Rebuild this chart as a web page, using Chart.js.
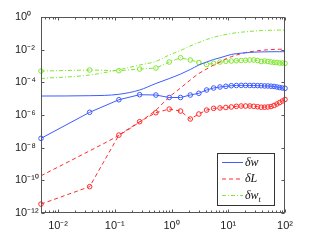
<!DOCTYPE html>
<html>
<head>
<meta charset="utf-8">
<script src="https://cdn.jsdelivr.net/npm/chart.js@4"></script>
<style>
html, body { margin: 0; padding: 0; background: #fff; }
</style>
</head>
<body>
<canvas id="chart" width="315" height="242"></canvas>
<script>
// sample points (same x grid for every series)
const xValues = [0.005, 0.036, 0.118, 0.274, 0.53, 0.91, 1.44, 2.14, 3.03, 4.15,
    5.52, 7.15, 9.08, 11.3, 13.9, 16.9, 20.2, 24.0, 28.2, 32.9,
    38.0, 43.7, 49.9, 56.7, 64.1, 72.0, 80.7, 89.9, 100];

// smooth curves (no markers)
const dwCurve = [1.45e-5, 1.52e-5, 1.85e-5, 3.4e-5, 8.5e-5, 1.7e-4, 3.2e-4, 6.1e-4, 1.15e-3, 1.75e-3,
    2.5e-3, 3.2e-3, 4.1e-3, 5.1e-3, 5.7e-3, 6.1e-3, 6.4e-3, 6.8e-3, 7.0e-3, 7.2e-3,
    7.3e-3, 7.35e-3, 7.4e-3, 7.45e-3, 7.5e-3, 7.5e-3, 7.5e-3, 7.5e-3, 7.5e-3];
const dLCurve = [1.9e-10, 6.4e-9, 5.7e-8, 3.7e-7, 2.0e-6, 1.26e-5, 4.5e-5, 1.39e-4, 3.5e-4, 6.5e-4,
    1.15e-3, 1.75e-3, 2.7e-3, 3.7e-3, 4.7e-3, 5.7e-3, 6.7e-3, 7.4e-3, 8.0e-3, 8.6e-3,
    9.1e-3, 9.5e-3, 9.8e-3, 1.01e-2, 1.04e-2, 1.05e-2, 1.06e-2, 1.07e-2, 1.1e-2];
const dwtCurve = [1.71e-4, 2.8e-4, 5.9e-4, 1.15e-3, 1.9e-3, 4.7e-3, 8.9e-3, 1.68e-2, 2.74e-2, 4.2e-2,
    5.7e-2, 7.2e-2, 8.5e-2, 9.8e-2, 0.109, 0.117, 0.124, 0.131, 0.137, 0.143,
    0.147, 0.151, 0.153, 0.155, 0.157, 0.158, 0.158, 0.158, 0.158];

// series drawn with circle markers
const dwMarks = [3.7e-8, 1.46e-6, 8.6e-6, 1.75e-5, 1.67e-5, 1.18e-5, 1.18e-5, 1.67e-5, 2.13e-5, 3.4e-5,
    4.5e-5, 5.2e-5, 5.7e-5, 6.2e-5, 6.4e-5, 6.5e-5, 6.5e-5, 6.4e-5, 6.4e-5, 6.3e-5,
    6.2e-5, 6.0e-5, 6.0e-5, 5.8e-5, 5.6e-5, 5.2e-5, 4.8e-5, 4.5e-5, 4.3e-5];
const dLMarks = [3.5e-12, 4.1e-11, 5.9e-8, 3.9e-7, 1.38e-6, 2.3e-6, 1.75e-6, 5.7e-7, 1.15e-6, 2.0e-6,
    2.56e-6, 2.7e-6, 2.9e-6, 3.1e-6, 3.4e-6, 3.55e-6, 3.55e-6, 3.55e-6, 3.4e-6, 3.2e-6,
    3.0e-6, 3.0e-6, 3.1e-6, 3.3e-6, 3.8e-6, 4.7e-6, 5.8e-6, 7.2e-6, 8.9e-6];
const dwtMarks = [4.9e-4, 5.7e-4, 5.15e-4, 6.5e-4, 7.5e-4, 1.75e-3, 3.2e-3, 2.33e-3, 1.64e-3, 1.23e-3,
    1.46e-3, 1.75e-3, 1.94e-3, 2.02e-3, 2.11e-3, 2.17e-3, 2.23e-3, 2.33e-3, 2.33e-3, 2.17e-3,
    1.88e-3, 2.02e-3, 1.88e-3, 1.75e-3, 1.68e-3, 1.64e-3, 1.52e-3, 1.52e-3, 1.46e-3];

const xTicks = [0.01, 0.1, 1, 10, 100];
const yTicks = [1e-12, 1e-10, 1e-8, 1e-6, 1e-4, 1e-2, 1];
const legendLabels = [['δw', ''], ['δL', ''], ['δw', 't']];

const blue = '#3d5cff';
const red = '#ff2a2a';
const green = '#80e632';

const sup = {'0': '⁰', '1': '¹', '2': '²', '3': '³', '4': '⁴', '5': '⁵',
    '6': '⁶', '7': '⁷', '8': '⁸', '9': '⁹', '-': '⁻'};

function powerLabel(v) {
    const e = Math.round(Math.log10(v));
    return '10' + String(e).split('').map(c => sup[c]).join('');
}

function points(values) {
    return xValues.map((x, i) => ({x: x, y: values[i]}));
}

const framePlugin = {
    id: 'frame',
    afterDraw(chart) {
        const {ctx, chartArea: a, scales: {x, y}} = chart;
        const left = Math.round(a.left) + 0.5;
        const right = Math.round(a.right) - 0.5;
        const top = Math.round(a.top) + 0.5;
        const bottom = Math.round(a.bottom) - 0.5;
        ctx.save();
        ctx.strokeStyle = '#555';
        ctx.lineWidth = 1;
        ctx.beginPath();

        // x ticks: majors + minors, bottom and top
        for (let d = 0.001; d <= 100; d *= 10) {
            for (let m = 1; m <= 9; m++) {
                const v = m * d;
                if (v < x.min * 0.999 || v > x.max * 1.001) {
                    continue;
                }
                const px = Math.round(x.getPixelForValue(v)) + 0.5;
                const len = m === 1 ? 3 : 2;
                ctx.moveTo(px, bottom);
                ctx.lineTo(px, bottom - len);
                ctx.moveTo(px, top);
                ctx.lineTo(px, top + len);
            }
        }
        yTicks.forEach((v) => {
            const py = Math.round(y.getPixelForValue(v)) + 0.5;
            ctx.moveTo(left, py);
            ctx.lineTo(left + 3, py);
            ctx.moveTo(right, py);
            ctx.lineTo(right - 3, py);
        });
        ctx.stroke();
        ctx.strokeRect(left, top, right - left, bottom - top);

        // legend box
        const bx = 217.5, by = 153.5, bw = 57, bh = 52;
        ctx.fillStyle = '#fff';
        ctx.fillRect(bx, by, bw, bh);
        ctx.strokeStyle = '#333';
        ctx.strokeRect(bx, by, bw, bh);
        const rows = [162.5, 179, 195.5];
        legendLabels.forEach((label, i) => {
            const ds = chart.data.datasets[i];
            ctx.save();
            ctx.strokeStyle = ds.borderColor;
            ctx.lineWidth = 1;
            ctx.setLineDash(ds.borderDash || []);
            ctx.beginPath();
            ctx.moveTo(222, rows[i]);
            ctx.lineTo(243, rows[i]);
            ctx.stroke();
            ctx.restore();
            ctx.fillStyle = '#111';
            ctx.textBaseline = 'middle';
            ctx.font = 'italic 12px "Liberation Serif", serif';
            ctx.fillText(label[0], 245, rows[i]);
            if (label[1]) {
                const w = ctx.measureText(label[0]).width;
                ctx.font = 'italic 8px "Liberation Serif", serif';
                ctx.fillText(label[1], 245 + w, rows[i] + 4);
            }
        });
        ctx.restore();
    }
};

Chart.defaults.font.family = '"Liberation Sans", Arial, sans-serif';

new Chart(document.getElementById('chart'), {
    type: 'line',
    data: {
        datasets: [
            {
                data: points(dwCurve),
                borderColor: blue,
                borderWidth: 1,
                pointRadius: 0,
                cubicInterpolationMode: 'monotone'
            },
            {
                data: points(dLCurve),
                borderColor: red,
                borderWidth: 1,
                borderDash: [4, 3],
                pointRadius: 0,
                cubicInterpolationMode: 'monotone'
            },
            {
                data: points(dwtCurve),
                borderColor: green,
                borderWidth: 1,
                borderDash: [4, 2, 1, 2],
                pointRadius: 0,
                cubicInterpolationMode: 'monotone'
            },
            {
                data: points(dwMarks),
                borderColor: blue,
                borderWidth: 1,
                clip: false,
                pointRadius: 2.3,
                pointBorderWidth: 1,
                pointBorderColor: blue,
                pointBackgroundColor: 'rgba(0,0,0,0)'
            },
            {
                data: points(dLMarks),
                borderColor: red,
                borderWidth: 1,
                borderDash: [4, 3],
                clip: false,
                pointRadius: 2.3,
                pointBorderWidth: 1,
                pointBorderColor: red,
                pointBackgroundColor: 'rgba(0,0,0,0)'
            },
            {
                data: points(dwtMarks),
                borderColor: green,
                borderWidth: 1,
                borderDash: [4, 2, 1, 2],
                clip: false,
                pointRadius: 2.3,
                pointBorderWidth: 1,
                pointBorderColor: green,
                pointBackgroundColor: 'rgba(0,0,0,0)'
            }
        ]
    },
    options: {
        responsive: false,
        animation: false,
        devicePixelRatio: 1,
        layout: {
            padding: {left: 15, right: 30, top: 17, bottom: 0}
        },
        plugins: {
            legend: {display: false},
            tooltip: {enabled: false}
        },
        scales: {
            x: {
                type: 'logarithmic',
                min: 0.005,
                max: 100,
                grid: {display: false, drawTicks: false},
                border: {display: false},
                ticks: {
                    autoSkip: false,
                    maxRotation: 0,
                    padding: 6,
                    color: '#222',
                    font: {size: 11},
                    callback: (v) => powerLabel(v)
                },
                afterBuildTicks: (scale) => {
                    scale.ticks = xTicks.map((v) => ({value: v}));
                },
                afterFit: (scale) => {
                    scale.height = 29;
                }
            },
            y: {
                type: 'logarithmic',
                min: 1e-12,
                max: 1,
                grid: {display: false, drawTicks: false},
                border: {display: false},
                ticks: {
                    autoSkip: false,
                    crossAlign: 'far',
                    color: '#222',
                    font: {size: 11},
                    callback: (v) => powerLabel(v)
                },
                afterBuildTicks: (scale) => {
                    scale.ticks = yTicks.map((v) => ({value: v}));
                },
                afterFit: (scale) => {
                    scale.width = 26;
                }
            }
        }
    },
    plugins: [framePlugin]
});
</script>
</body>
</html>
